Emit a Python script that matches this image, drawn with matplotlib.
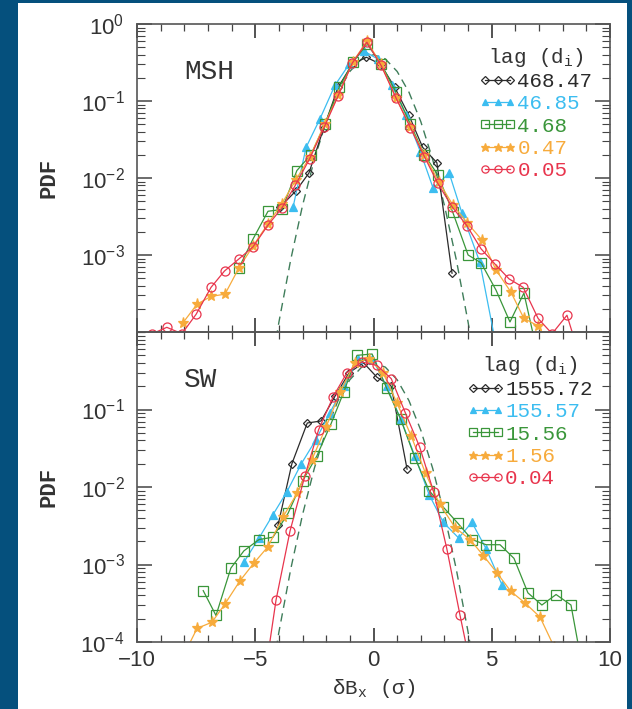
import numpy as np
import matplotlib
matplotlib.use('Agg')
import matplotlib.pyplot as plt
from matplotlib.patches import Rectangle
from matplotlib.ticker import FixedLocator, NullFormatter, LogLocator, MultipleLocator

plt.rcParams['mathtext.default'] = 'regular'

# --- data ---
gauss_x = [-4.5, -4.0, -3.5, -3.0, -2.5, -2.0, -1.5, -1.0, -0.5, 0.0,
           0.5, 1.0, 1.5, 2.0, 2.5, 3.0, 3.5, 4.0, 4.5]
gauss_y = [1.6e-5, 1.34e-4, 8.7e-4, 4.4e-3, 0.0175, 0.054, 0.13, 0.242, 0.352, 0.399,
           0.352, 0.242, 0.13, 0.054, 0.0175, 4.4e-3, 8.7e-4, 1.34e-4, 1.6e-5]

# MSH panel, lag (d_i)
msh_labels = ['468.47', '46.85', '4.68', '0.47', '0.05']
msh_black_x = [-3.95, -3.28, -2.73, -2.1, -1.5, -0.9, -0.3, 0.3, 0.9, 1.5, 2.08, 2.68, 3.32]
msh_black_y = [4.2e-3, 6.8e-3, 0.0116, 0.045, 0.15, 0.3, 0.37, 0.3, 0.15, 0.065, 0.025, 0.0158, 5.8e-4]
msh_cyan_x = [-3.4, -2.85, -2.26, -1.63, -1.03, -0.42, 0.18, 0.78, 1.38, 1.98, 2.52, 3.2, 3.74, 4.5, 5.1]
msh_cyan_y = [4.2e-3, 0.025, 0.059, 0.16, 0.3, 0.45, 0.35, 0.16, 0.065, 0.022, 7.4e-3, 0.0116, 3.5e-3, 8e-4, 9e-5]
msh_green_x = [-5.69, -5.1, -4.46, -3.87, -3.24, -2.65, -2.05, -1.45, -0.87, -0.27, 0.33, 0.95,
               1.56, 2.15, 2.72, 3.35, 4.0, 4.55, 5.18, 5.77, 6.36, 6.95]
msh_green_y = [6.8e-4, 1.6e-3, 3.7e-3, 3.9e-3, 0.0125, 0.02, 0.05, 0.15, 0.32, 0.55, 0.3, 0.13,
               0.05, 0.02, 0.011, 3.6e-3, 1e-3, 7.9e-4, 3.5e-4, 1.35e-4, 3.2e-4, 5e-5]
msh_orange_x = [-8.07, -7.46, -6.87, -6.28, -5.69, -5.1, -4.48, -3.88, -3.28, -2.68, -2.07, -1.48,
                -0.88, -0.28, 0.32, 0.95, 1.56, 2.15, 2.75, 3.35, 3.97, 4.59, 5.18, 5.81, 6.36,
                6.96, 7.55]
msh_orange_y = [1.3e-4, 2.3e-4, 2.9e-4, 3.1e-4, 6.8e-4, 1.3e-3, 2.5e-3, 4.6e-3, 9.5e-3, 0.019,
                0.05, 0.12, 0.32, 0.6, 0.3, 0.11, 0.046, 0.02, 9e-3, 4.5e-3, 2.6e-3, 1.56e-3,
                6.4e-4, 3.3e-4, 1.5e-4, 1.2e-4, 6e-5]
msh_red_x = [-9.35, -8.74, -8.1, -7.5, -6.87, -6.3, -5.69, -5.1, -4.46, -3.87, -3.3, -2.7,
             -2.08, -1.5, -0.9, -0.28, 0.32, 0.95, 1.56, 2.15, 2.72, 3.33, 3.95, 4.55, 5.14,
             5.73, 6.33, 6.96, 7.55, 8.18, 8.8]
msh_red_y = [9.5e-5, 1.15e-4, 9.5e-5, 1.7e-4, 3.8e-4, 6.2e-4, 8.9e-4, 1.27e-3, 2.45e-3, 4.1e-3,
             8.1e-3, 0.0178, 0.046, 0.116, 0.31, 0.58, 0.29, 0.11, 0.045, 0.019, 8.5e-3, 4.2e-3,
             2.4e-3, 1.2e-3, 7.6e-4, 4.9e-4, 3.8e-4, 1.5e-4, 9.5e-5, 1.65e-4, 4e-5]

# SW panel, lag (d_i)
sw_labels = ['1555.72', '155.57', '15.56', '1.56', '0.04']
sw_black_x = [-4.04, -3.45, -2.8, -2.22, -1.62, -1.02, -0.42, 0.15, 0.75, 1.42]
sw_black_y = [3.2e-3, 0.02, 0.067, 0.071, 0.15, 0.3, 0.4, 0.26, 0.2, 0.017]
sw_cyan_x = [-5.48, -4.84, -4.25, -3.66, -3.05, -2.45, -1.85, -1.25, -0.65, -0.05, 0.55, 1.15,
             1.75, 2.35, 2.95, 3.6, 4.16, 4.76, 5.43]
sw_cyan_y = [1.07e-3, 2.2e-3, 4.4e-3, 8.7e-3, 0.02, 0.04, 0.09, 0.2, 0.45, 0.45, 0.2, 0.075,
             0.025, 8e-3, 3.5e-3, 2.2e-3, 3.5e-3, 1.6e-3, 5.5e-4]
sw_green_x = [-7.2, -6.66, -6.03, -5.48, -4.84, -4.25, -3.61, -3.0, -2.4, -1.8, -1.25, -0.7,
              -0.06, 0.55, 1.15, 1.75, 2.35, 2.95, 3.57, 4.16, 4.76, 5.35, 5.94, 6.53, 7.12,
              7.72, 8.35, 8.95]
sw_green_y = [4.6e-4, 2.2e-4, 9e-4, 1.5e-3, 2.1e-3, 2.25e-3, 4.6e-3, 0.012, 0.025, 0.065, 0.17,
              0.5, 0.52, 0.19, 0.075, 0.024, 9e-3, 5.5e-3, 3.4e-3, 2.1e-3, 1.8e-3, 1.8e-3,
              1.2e-3, 4.3e-4, 3e-4, 4.1e-4, 3e-4, 3e-5]
sw_orange_x = [-8.0, -7.46, -6.83, -6.28, -5.64, -5.05, -4.46, -3.83, -3.23, -2.62, -2.0, -1.4,
               -0.8, -0.2, 0.4, 1.0, 1.6, 2.2, 2.8, 3.45, 4.08, 4.65, 5.22, 5.81, 6.4, 7.04, 7.65]
sw_orange_y = [7e-5, 1.5e-4, 1.8e-4, 3.1e-4, 6.2e-4, 1.05e-3, 1.7e-3, 4.1e-3, 8.3e-3, 0.022,
               0.06, 0.17, 0.4, 0.45, 0.3, 0.12, 0.045, 0.015, 6e-3, 3e-3, 2.1e-3, 1.3e-3,
               7.8e-4, 4.5e-4, 3.2e-4, 2.1e-4, 8.5e-5]
sw_red_x = [-4.7, -4.12, -3.53, -2.9, -2.32, -1.71, -1.12, -0.49, 0.15, 0.75, 1.35, 1.95,
            2.55, 3.1, 3.66, 4.25]
sw_red_y = [2.2e-5, 3.5e-4, 2.7e-3, 0.014, 0.055, 0.145, 0.3, 0.41, 0.37, 0.25, 0.09, 0.033,
            8.5e-3, 1.6e-3, 2.2e-4, 3e-5]

colors = ['#2b2b2b', '#3cbdf0', '#3a963a', '#f7ab3c', '#e8354d']
markers = ['D', '^', 's', '*', 'o']
msizes = [4.5, 6, 6.5, 8, 6.5]
filled = [False, True, False, True, False]

mono = 'Liberation Mono'
sans = 'Liberation Sans'

fig = plt.figure(figsize=(6.32, 7.09), dpi=100)
fig.patch.set_facecolor('#05507d')
fig.add_artist(Rectangle((18 / 632, 0), 609 / 632, 706 / 709, transform=fig.transFigure,
                         facecolor='white', edgecolor='none', zorder=-10))

ax1 = fig.add_axes([137 / 632, 1 - 332 / 709, 473 / 632, 308 / 709])
ax2 = fig.add_axes([137 / 632, 1 - 642 / 709, 473 / 632, 310 / 709])

panels = [
    (ax1, 'MSH', msh_labels,
     [(msh_black_x, msh_black_y), (msh_cyan_x, msh_cyan_y), (msh_green_x, msh_green_y),
      (msh_orange_x, msh_orange_y), (msh_red_x, msh_red_y)],
     [0, -1, -2, -3]),
    (ax2, 'SW', sw_labels,
     [(sw_black_x, sw_black_y), (sw_cyan_x, sw_cyan_y), (sw_green_x, sw_green_y),
      (sw_orange_x, sw_orange_y), (sw_red_x, sw_red_y)],
     [-1, -2, -3, -4]),
]

for ax, name, labels, series, label_exps in panels:
    ax.set_facecolor('none')
    ax.set_yscale('log')
    ax.plot(gauss_x, gauss_y, color='#3f7d5a', lw=1.0, dashes=(6, 4), zorder=1)
    handles = []
    for (xs, ys), c, m, ms, f, lab in zip(series, colors, markers, msizes, filled, labels):
        h, = ax.plot(xs, ys, color=c, lw=0.9, marker=m, ms=ms,
                     mfc=c if f else 'none', mec=c, mew=0.9, label=lab, zorder=2)
        handles.append(h)
    ax.set_xlim(-10, 10)
    ax.set_ylim(1e-4, 1)

    leg = ax.legend(handles=handles, loc='upper right', bbox_to_anchor=(0.963, 0.93),
                    frameon=False, numpoints=3, handlelength=1.8, handletextpad=0.05,
                    labelspacing=0.16, markerscale=0.8, borderpad=0, borderaxespad=0,
                    title='lag (d$_\\mathregular{i}$)',
                    prop={'family': mono, 'size': 15}, labelcolor='linecolor')
    leg.get_title().set_fontfamily(mono)
    leg.get_title().set_fontsize(15)
    leg.get_title().set_color('#333333')

    ax.text(0.10, 0.845, name, transform=ax.transAxes,
            fontfamily=mono, fontsize=20, color='#333333', va='center')
    ax.set_ylabel('PDF', fontfamily=mono, fontsize=16, fontweight='bold', color='#333333',
                  labelpad=15)

    ax.xaxis.set_major_locator(MultipleLocator(5))
    ax.xaxis.set_minor_locator(MultipleLocator(1))
    ax.yaxis.set_major_locator(FixedLocator([10.0 ** e for e in label_exps]))
    ax.yaxis.set_minor_locator(LogLocator(base=10, subs=np.arange(1, 10)))
    ax.yaxis.set_minor_formatter(NullFormatter())
    ax.set_yticklabels(['$10^{%d}$' % e for e in label_exps], fontfamily=sans, fontsize=16)
    ax.tick_params(which='both', direction='in', top=True, right=True, colors='#444444')
    ax.tick_params(axis='x', which='major', length=10, width=1.3, pad=6)
    ax.tick_params(axis='x', which='minor', length=5, width=0.9)
    ax.tick_params(axis='y', which='major', length=11, width=1.1, pad=9)
    ax.tick_params(axis='y', which='minor', length=6, width=0.8)
    ax.tick_params(labelcolor='#333333')
    for sp in ax.spines.values():
        sp.set_color('#555555')
        sp.set_linewidth(1.2)

ax1.tick_params(axis='x', labelbottom=False)
ax2.set_xticks([-10, -5, 0, 5, 10])
ax2.set_xticklabels(['\u221210', '\u22125', '0', '5', '10'], fontfamily=sans, fontsize=16)
ax2.set_xlabel('\u03b4B$_\\mathregular{x}$ (\u03c3)', fontfamily=mono, fontsize=15,
               color='#333333', labelpad=4)

fig.savefig('out.png', dpi=100, facecolor=fig.get_facecolor())
